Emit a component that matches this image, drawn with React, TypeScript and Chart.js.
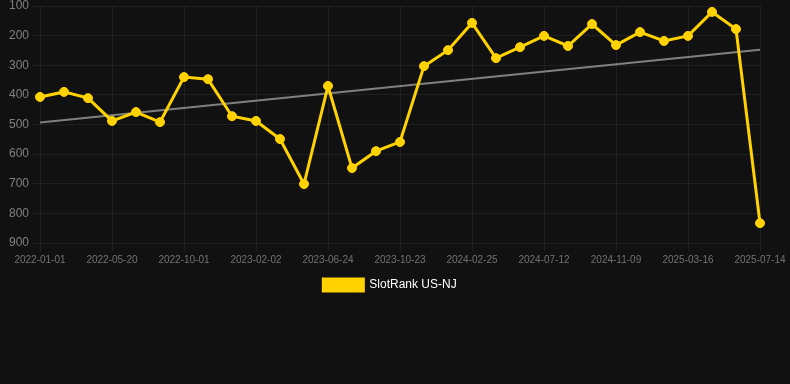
import React, { useEffect, useRef } from "react";
import { Chart, registerables } from "chart.js";

Chart.register(...registerables);

const dates: string[] = [
  "2022-01-01", "2022-02-15", "2022-04-05", "2022-05-20", "2022-07-04", "2022-08-17",
  "2022-10-01", "2022-11-12", "2022-12-22", "2023-02-02", "2023-03-18", "2023-05-10",
  "2023-06-24", "2023-08-08", "2023-09-15", "2023-10-23", "2023-12-05", "2024-01-14",
  "2024-02-25", "2024-04-12", "2024-05-28", "2024-07-12", "2024-08-24", "2024-09-27",
  "2024-11-09", "2024-12-20", "2025-02-02", "2025-03-16", "2025-04-28", "2025-06-04",
  "2025-07-14",
];

const rankValues: number[] = [
  407, 390, 411, 488, 458, 492, 340, 347, 472, 488, 549, 701, 370, 647, 590, 559,
  303, 249, 157, 276, 239, 201, 235, 161, 232, 188, 218, 201, 120, 178, 833,
];

const trendStart = 493;
const trendEnd = 248;

const seriesLabel = "SlotRank US-NJ";
const yTicks: number[] = [100, 900];

export default function App() {
  const canvasRef = useRef<HTMLCanvasElement | null>(null);

  useEffect(() => {
    document.body.style.margin = "0";
    document.body.style.background = "#111111";
    const canvas = canvasRef.current;
    if (!canvas) return;
    const trendData: (number | null)[] = dates.map((_, i) =>
      i === 0 ? trendStart : i === dates.length - 1 ? trendEnd : null
    );
    const chart = new Chart(canvas, {
      type: "line",
      data: {
        labels: dates,
        datasets: [
          {
            label: seriesLabel,
            data: rankValues,
            borderColor: "#FFD200",
            backgroundColor: "#FFD200",
            borderWidth: 3,
            pointRadius: 4.5,
            pointBorderWidth: 1,
            pointBackgroundColor: "#FFD200",
            pointBorderColor: "#FFD200",
            tension: 0,
          },
          {
            label: "trend",
            data: trendData,
            spanGaps: true,
            borderColor: "#808080",
            borderWidth: 2,
            pointRadius: 0,
            tension: 0,
          },
        ],
      },
      options: {
        animation: false,
        responsive: false,
        maintainAspectRatio: false,
        layout: { padding: { left: 0, right: 10, top: 0, bottom: 0 } },
        scales: {
          x: {
            offset: false,
            grid: { color: "rgba(255,255,255,0.06)", tickLength: 8 },
            border: { display: false },
            ticks: {
              color: "#727272",
              font: { size: 10 },
              maxRotation: 0,
              autoSkip: true,
              maxTicksLimit: 11,
            },
            afterFit: (scale: any) => {
              scale.paddingRight = 30;
            },
          },
          y: {
            reverse: true,
            min: yTicks[0],
            max: yTicks[1],
            grid: { color: "rgba(255,255,255,0.06)" },
            border: { display: false },
            ticks: { color: "#808080", font: { size: 12 }, stepSize: 100 },
            afterFit: (scale: any) => {
              scale.width = 40;
              scale.paddingTop = 6;
            },
          },
        },
        plugins: {
          legend: {
            position: "bottom",
            labels: {
              color: "#ffffff",
              boxWidth: 40,
              boxHeight: 12,
              font: { size: 12 },
              filter: (item: any) => item.text !== "trend",
            },
          },
          tooltip: { enabled: false },
        },
      },
    });
    return () => chart.destroy();
  }, []);

  return (
    <div style={{ width: 790, height: 384, background: "#111111" }}>
      <canvas ref={canvasRef} width={790} height={301} style={{ display: "block" }} />
    </div>
  );
}
